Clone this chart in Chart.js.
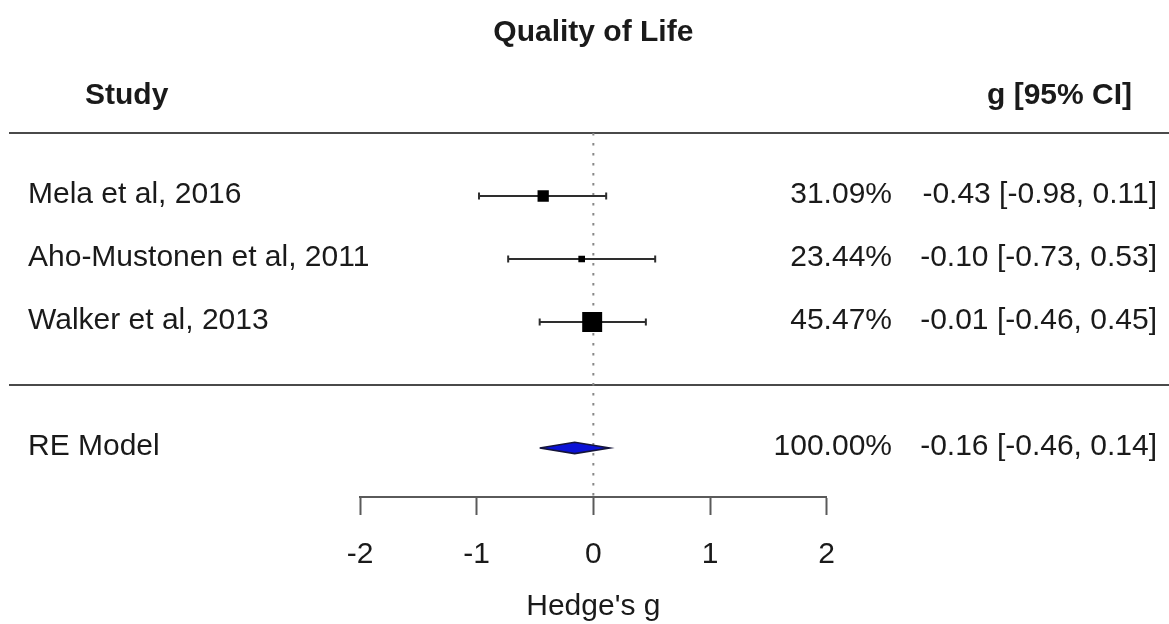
<!DOCTYPE html>
<html>
<head>
<meta charset="utf-8">
<title>Quality of Life</title>
<script src="https://cdn.jsdelivr.net/npm/chart.js@4/dist/chart.umd.min.js"></script>
<style>
  html, body { margin: 0; padding: 0; background: #ffffff; }
  #wrap { width: 1169px; height: 624px; position: relative; }
</style>
</head>
<body>
<div id="wrap"><canvas id="forest" width="1169" height="624"></canvas></div>
<script>
// ---- study-level results ----
const studies   = ['Mela et al, 2016', 'Aho-Mustonen et al, 2011', 'Walker et al, 2013'];
const effects   = [-0.43, -0.10, -0.01];
const ciLower   = [-0.98, -0.73, -0.46];
const ciUpper   = [0.11, 0.53, 0.45];
const weights   = [31.09, 23.44, 45.47];

// ---- pooled random-effects estimate ----
const pooledLabel  = 'RE Model';
const pooledEffect = -0.16;
const pooledLower  = -0.46;
const pooledUpper  = 0.14;
const pooledWeight = 100.00;

// ---- axis ----
const xTicks = [-2, -1, 0, 1, 2];
const xTitle = "Hedge's g";
const chartTitle = 'Quality of Life';
const headerLeft = 'Study';
const headerRight = 'g [95% CI]';

// ---- layout (rows counted from the bottom) ----
const studyRows = [5, 4, 3];
const pooledRow = 1;
const headerRuleRow = 6;
const pooledRuleRow = 2;
const Y_MIN = 0.222;
const Y_MAX = 6;
const DIAMOND_HALF = 0.09;    // half height of the summary diamond, in row units
const FONT = '"Liberation Sans", Arial, Helvetica, sans-serif';
const TEXT_COLOR = '#1a1a1a';

// square side grows linearly with study weight (0.5x .. 1.5x of the base size)
const minW = Math.min(...weights), maxW = Math.max(...weights);
const squareRadius = weights.map(w => {
  const side = 13.3 * (0.5 + (w - minW) / (maxW - minW));
  return side / (2 * Math.SQRT1_2);
});

const fmt = v => v.toFixed(2);
const ciText = (e, lo, hi) => `${fmt(e)} [${fmt(lo)}, ${fmt(hi)}]`;

const datasets = [];

// point estimates (drawn on top)
datasets.push({
  data: effects.map((e, i) => ({ x: e, y: studyRows[i] })),
  showLine: false,
  pointStyle: 'rect',
  pointRadius: squareRadius,
  pointBackgroundColor: '#000000',
  pointBorderWidth: 0,
  pointHoverRadius: squareRadius,
});

// confidence intervals with end caps
studies.forEach((s, i) => {
  datasets.push({
    data: [{ x: ciLower[i], y: studyRows[i] }, { x: ciUpper[i], y: studyRows[i] }],
    showLine: true,
    borderColor: '#2e2e2e',
    borderWidth: 2,
    pointStyle: 'line',
    rotation: 90,
    pointRadius: 3.6,
    pointBorderWidth: 2,
    pointBorderColor: '#2e2e2e',
    pointHoverRadius: 3.6,
  });
});

// summary diamond
datasets.push({
  data: [
    { x: pooledLower, y: pooledRow },
    { x: pooledEffect, y: pooledRow + DIAMOND_HALF },
    { x: pooledUpper, y: pooledRow },
    { x: pooledEffect, y: pooledRow - DIAMOND_HALF },
    { x: pooledLower, y: pooledRow },
  ],
  showLine: true,
  tension: 0,
  fill: 'shape',
  backgroundColor: '#0b12d6',
  borderColor: '#15153a',
  borderWidth: 1.6,
  pointRadius: 0,
  pointHoverRadius: 0,
});

// line of no effect
datasets.push({
  data: [{ x: 0, y: headerRuleRow }, { x: 0, y: Y_MIN }],
  showLine: true,
  borderColor: '#888888',
  borderWidth: 2,
  borderDash: [2.4, 7.6],
  borderCapStyle: 'butt',
  pointRadius: 0,
  pointHoverRadius: 0,
});

// horizontal rules and the text table around the plot
const tablePlugin = {
  id: 'forestTable',
  beforeDatasetsDraw(chart) {
    const { ctx, scales: { y }, width } = chart;
    ctx.save();
    ctx.strokeStyle = '#4a4a4a';
    ctx.lineWidth = 2;
    [headerRuleRow, pooledRuleRow].forEach(r => {
      const py = Math.round(y.getPixelForValue(r));
      ctx.beginPath();
      ctx.moveTo(9, py);
      ctx.lineTo(width, py);
      ctx.stroke();
    });
    ctx.restore();
  },
  afterDraw(chart) {
    const { ctx, scales: { x, y } } = chart;
    const dy = -1.5;
    ctx.save();
    ctx.fillStyle = TEXT_COLOR;
    ctx.textBaseline = 'middle';

    ctx.font = `bold 30px ${FONT}`;
    ctx.textAlign = 'center';
    ctx.fillText(chartTitle, x.getPixelForValue(0), 33);
    ctx.textAlign = 'left';
    ctx.fillText(headerLeft, 85, 96);
    ctx.textAlign = 'right';
    ctx.fillText(headerRight, 1132, 96);

    ctx.font = `30px ${FONT}`;
    studies.forEach((s, i) => {
      const py = y.getPixelForValue(studyRows[i]) + dy;
      ctx.textAlign = 'left';
      ctx.fillText(s, 28, py);
      ctx.textAlign = 'right';
      ctx.fillText(fmt(weights[i]) + '%', 892, py);
      ctx.fillText(ciText(effects[i], ciLower[i], ciUpper[i]), 1157, py);
    });
    const pp = y.getPixelForValue(pooledRow) + dy;
    ctx.textAlign = 'left';
    ctx.fillText(pooledLabel, 28, pp);
    ctx.textAlign = 'right';
    ctx.fillText(fmt(pooledWeight) + '%', 892, pp);
    ctx.fillText(ciText(pooledEffect, pooledLower, pooledUpper), 1157, pp);
    ctx.restore();
  }
};

new Chart(document.getElementById('forest'), {
  type: 'scatter',
  data: { datasets },
  options: {
    responsive: false,
    animation: false,
    devicePixelRatio: 1,
    layout: { padding: { left: 360, right: 342.3, top: 133, bottom: 0 } },
    plugins: {
      legend: { display: false },
      tooltip: { enabled: false },
    },
    events: [],
    scales: {
      x: {
        type: 'linear',
        min: xTicks[0],
        max: xTicks[xTicks.length - 1],
        afterBuildTicks: s => { s.ticks = xTicks.map(v => ({ value: v })); },
        afterFit: s => { s.height = 127; },
        ticks: {
          color: TEXT_COLOR,
          font: { family: FONT, size: 30 },
          padding: 22,
          maxRotation: 0,
          callback: v => String(v),
        },
        grid: {
          drawOnChartArea: false,
          drawTicks: true,
          tickLength: 18,
          tickColor: '#5a5a5a',
          tickWidth: 2,
        },
        border: { display: true, color: '#5a5a5a', width: 2 },
        title: {
          display: true,
          text: xTitle,
          color: TEXT_COLOR,
          font: { family: FONT, size: 30 },
          padding: { top: 0, bottom: -1 },
        },
      },
      y: {
        type: 'linear',
        display: false,
        min: Y_MIN,
        max: Y_MAX,
      },
    },
  },
  plugins: [tablePlugin],
});
</script>
</body>
</html>
